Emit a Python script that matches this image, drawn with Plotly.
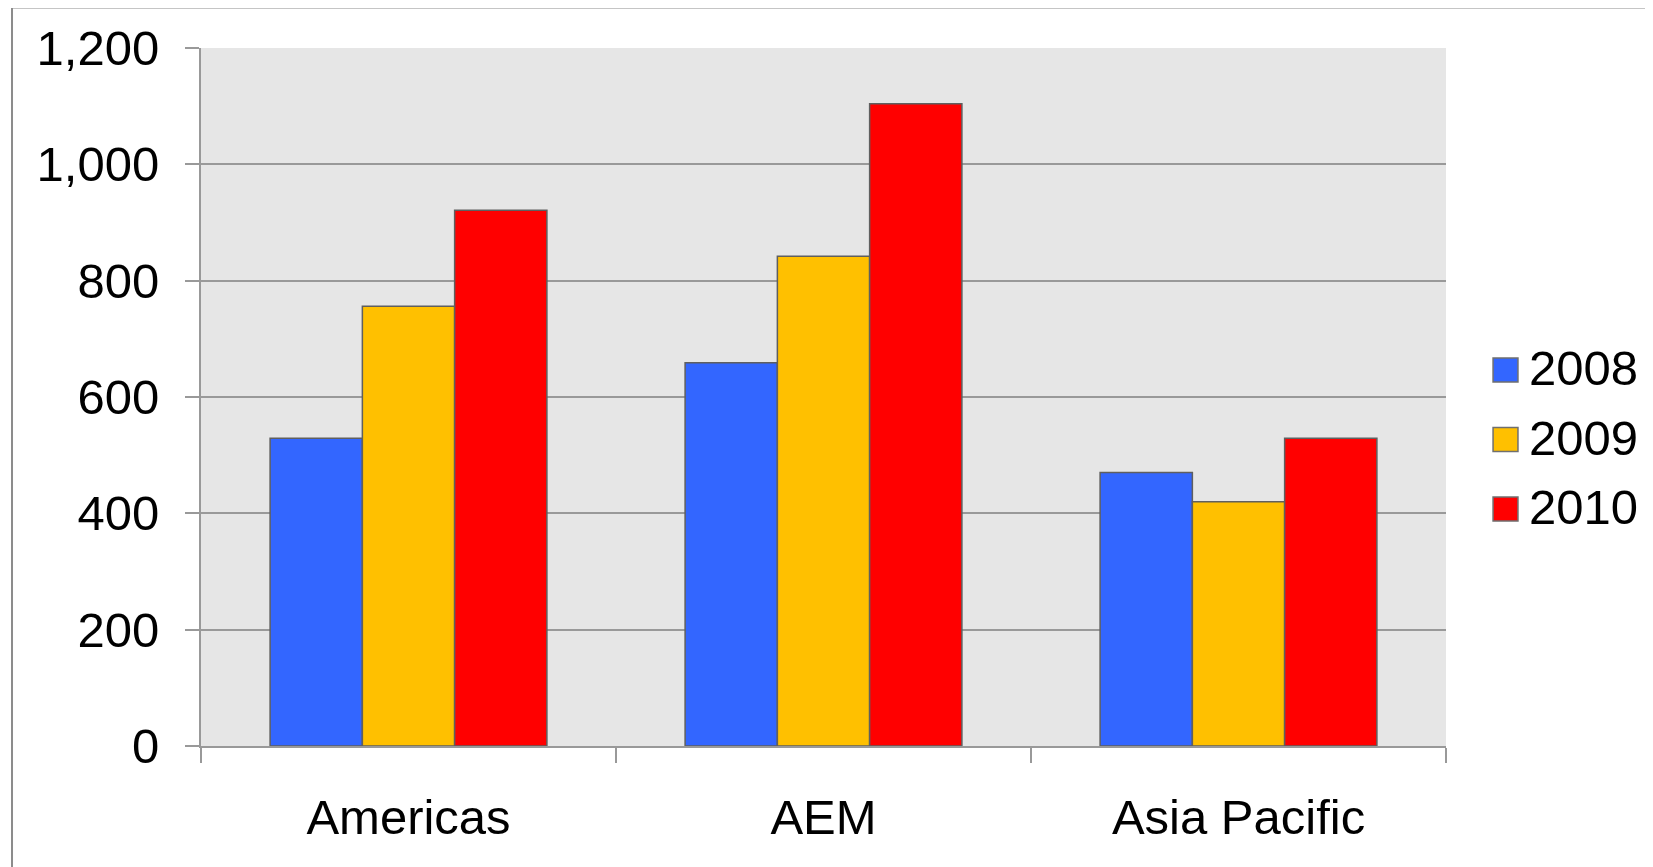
import plotly.graph_objects as go

categories = ["Americas", "AEM", "Asia Pacific"]
series_names = ["2008", "2009", "2010"]
values_2008 = [529, 659, 470]
values_2009 = [756, 842, 420]
values_2010 = [921, 1104, 529]
colors = ["#3366FF", "#FFC000", "#FF0000"]
y_ticks = [0, 200, 400, 600, 800, 1000, 1200]
y_tick_labels = ["0", "200", "400", "600", "800", "1,000", "1,200"]

FONT = "Liberation Sans, Arial, sans-serif"
FS = 49

fig = go.Figure()
for name, vals, col in zip(series_names, [values_2008, values_2009, values_2010], colors):
    fig.add_trace(go.Bar(
        x=categories, y=vals, name=name, showlegend=False,
        marker=dict(color=col, line=dict(color="#5F5F5F", width=1.5)),
    ))

# custom legend (larger swatches like the original)
shapes = [
    dict(type="rect", xref="paper", yref="paper",
         x0=-0.1518, x1=1.4, y0=-0.4, y1=1.058,
         line=dict(color="#8C8C8C", width=2), fillcolor="rgba(0,0,0,0)",
         layer="below"),
]
annotations = []
leg_top = 0.5387
leg_step = 0.0996
half = 0.0172
for i, (name, col) in enumerate(zip(series_names, colors)):
    yc = leg_top - i * leg_step
    shapes.append(dict(type="rect", xref="paper", yref="paper",
                       x0=1.0378, x1=1.0578, y0=yc - half, y1=yc + half,
                       fillcolor=col, line=dict(color="#6F6F6F", width=1.5)))
    annotations.append(dict(xref="paper", yref="paper", x=1.0652, y=yc, yshift=2,
                            xanchor="left", yanchor="middle", showarrow=False,
                            text=name, font=dict(size=FS, family=FONT, color="black")))

fig.update_layout(
    width=1653, height=867,
    margin=dict(l=193, r=215, t=40, b=129),
    paper_bgcolor="white",
    plot_bgcolor="#E6E6E6",
    barmode="group",
    bargap=0.333,
    bargroupgap=0,
    font=dict(family=FONT, size=FS, color="black"),
    shapes=shapes,
    annotations=annotations,
)

fig.update_xaxes(
    showgrid=False,
    showline=True, linecolor="#999999", linewidth=2,
    ticks="outside", tickson="boundaries", ticklen=15, tickwidth=2, tickcolor="#999999",
    tickfont=dict(size=FS, family=FONT, color="black"),
    ticklabelstandoff=27,
)
fig.update_yaxes(
    range=[0, 1200],
    tickvals=y_ticks, ticktext=y_tick_labels,
    showgrid=True, gridcolor="#999999", gridwidth=2,
    showline=True, linecolor="#999999", linewidth=2,
    ticks="outside", ticklen=14, tickwidth=2, tickcolor="#999999",
    tickfont=dict(size=FS, family=FONT, color="black"),
    ticklabelstandoff=16,
    zeroline=False,
)

fig.write_html("out.html")
